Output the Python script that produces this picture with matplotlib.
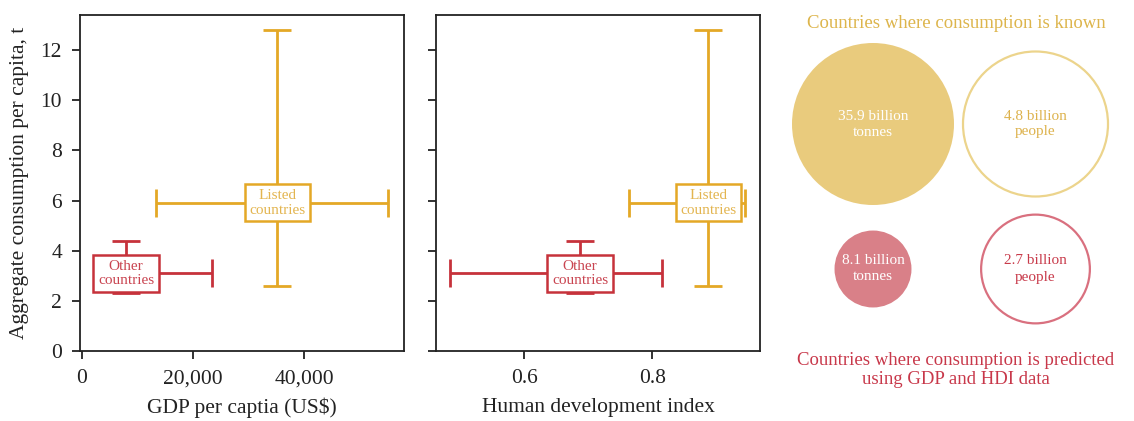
import numpy as np
import matplotlib
matplotlib.use("Agg")
import matplotlib.pyplot as plt
from matplotlib.patches import Circle

plt.rcParams['font.family'] = ['Liberation Serif', 'DejaVu Serif']

# group summaries: centre, lower/upper ends
groups = ["Listed\ncountries", "Other\ncountries"]
cons_mid = [5.91, 3.10]
cons_low = [2.59, 2.31]
cons_high = [12.8, 4.40]
gdp_mid = [35200, 8000]
gdp_low = [13400, 3000]
gdp_high = [55100, 23500]
hdi_mid = [0.8875, 0.687]
hdi_low = [0.763, 0.484]
hdi_high = [0.945, 0.815]

# totals for the bubbles
tonnes = [35.9, 8.1]
people = [4.8, 2.7]

line_cols = ["#E4A826", "#C6323B"]
text_cols = ["#E3B550", "#C94450"]

W, H = 1134, 421
fig = plt.figure(figsize=(W / 100, H / 100), dpi=100)

ax1 = fig.add_axes([80 / W, 70 / H, 324 / W, 336 / H])
ax2 = fig.add_axes([436 / W, 70 / H, 324 / W, 336 / H])


def draw_panel(ax, mid, low, high):
    for i in range(len(groups)):
        ax.errorbar(mid[i], cons_mid[i],
                    xerr=[[mid[i] - low[i]], [high[i] - mid[i]]],
                    yerr=[[cons_mid[i] - cons_low[i]], [cons_high[i] - cons_mid[i]]],
                    color=line_cols[i], lw=2, capsize=10, capthick=2, zorder=2)
        ax.text(mid[i], cons_mid[i], groups[i], ha="center", va="center",
                fontsize=11, color=text_cols[i], linespacing=1.15, zorder=3,
                bbox=dict(boxstyle="square,pad=0.3", fc="white",
                          ec=line_cols[i], lw=1.8))
    ax.set_ylim(0, 13.4)
    ax.set_yticks(range(0, 13, 2))
    for s in ax.spines.values():
        s.set_linewidth(1.3)
        s.set_color("#222222")
    ax.tick_params(direction="out", length=6, width=1.3, labelsize=15.5,
                   colors="#222222", pad=7)


draw_panel(ax1, gdp_mid, gdp_low, gdp_high)
ax1.set_xlim(-300, 58000)
ax1.set_xticks([0, 20000, 40000])
ax1.set_xticklabels(["0", "20,000", "40,000"])
ax1.set_xlabel("GDP per captia (US$)", fontsize=15.5, color="#222222", labelpad=7)
ax1.set_ylabel("Aggregate consumption per capita, t", fontsize=15.5,
               color="#222222", labelpad=8)

draw_panel(ax2, hdi_mid, hdi_low, hdi_high)
ax2.set_xlim(0.462, 0.968)
ax2.set_xticks([0.6, 0.8])
ax2.set_yticklabels([])
ax2.set_xlabel("Human development index", fontsize=15.5, color="#222222", labelpad=7)

# bubble panel, data units = pixels
ax3 = fig.add_axes([770 / W, 0, 364 / W, 1])
ax3.set_xlim(770, 1134)
ax3.set_ylim(H, 0)
ax3.axis("off")

r_t = 81 / np.sqrt(tonnes[0])
r_p = 72.5 / np.sqrt(people[0])
row_y = [124, 269]
fill_cols = ["#E9CB7D", "#D98088"]
ring_cols = ["#ECD48C", "#D9707F"]
ring_text = ["#DDB24C", "#C83A4A"]

for i in range(2):
    ax3.add_patch(Circle((873, row_y[i]), r_t * np.sqrt(tonnes[i]),
                         fc=fill_cols[i], ec="none"))
    ax3.text(873, row_y[i], f"{tonnes[i]} billion\ntonnes", ha="center",
             va="center", color="white", fontsize=11, linespacing=1.3)
    ax3.add_patch(Circle((1035.5, row_y[i]), r_p * np.sqrt(people[i]),
                         fc="none", ec=ring_cols[i], lw=1.6))
    ax3.text(1035.5, row_y[i], f"{people[i]} billion\npeople", ha="center",
             va="center", color=ring_text[i], fontsize=11, linespacing=1.3)

ax3.text(956, 23, "Countries where consumption is known", ha="center",
         va="center", color="#DDB54C", fontsize=13.5)
ax3.text(956, 370, "Countries where consumption is predicted\nusing GDP and HDI data",
         ha="center", va="center", color="#C8384A", fontsize=13.5,
         linespacing=1.15)

fig.savefig("out.png", dpi=100)
